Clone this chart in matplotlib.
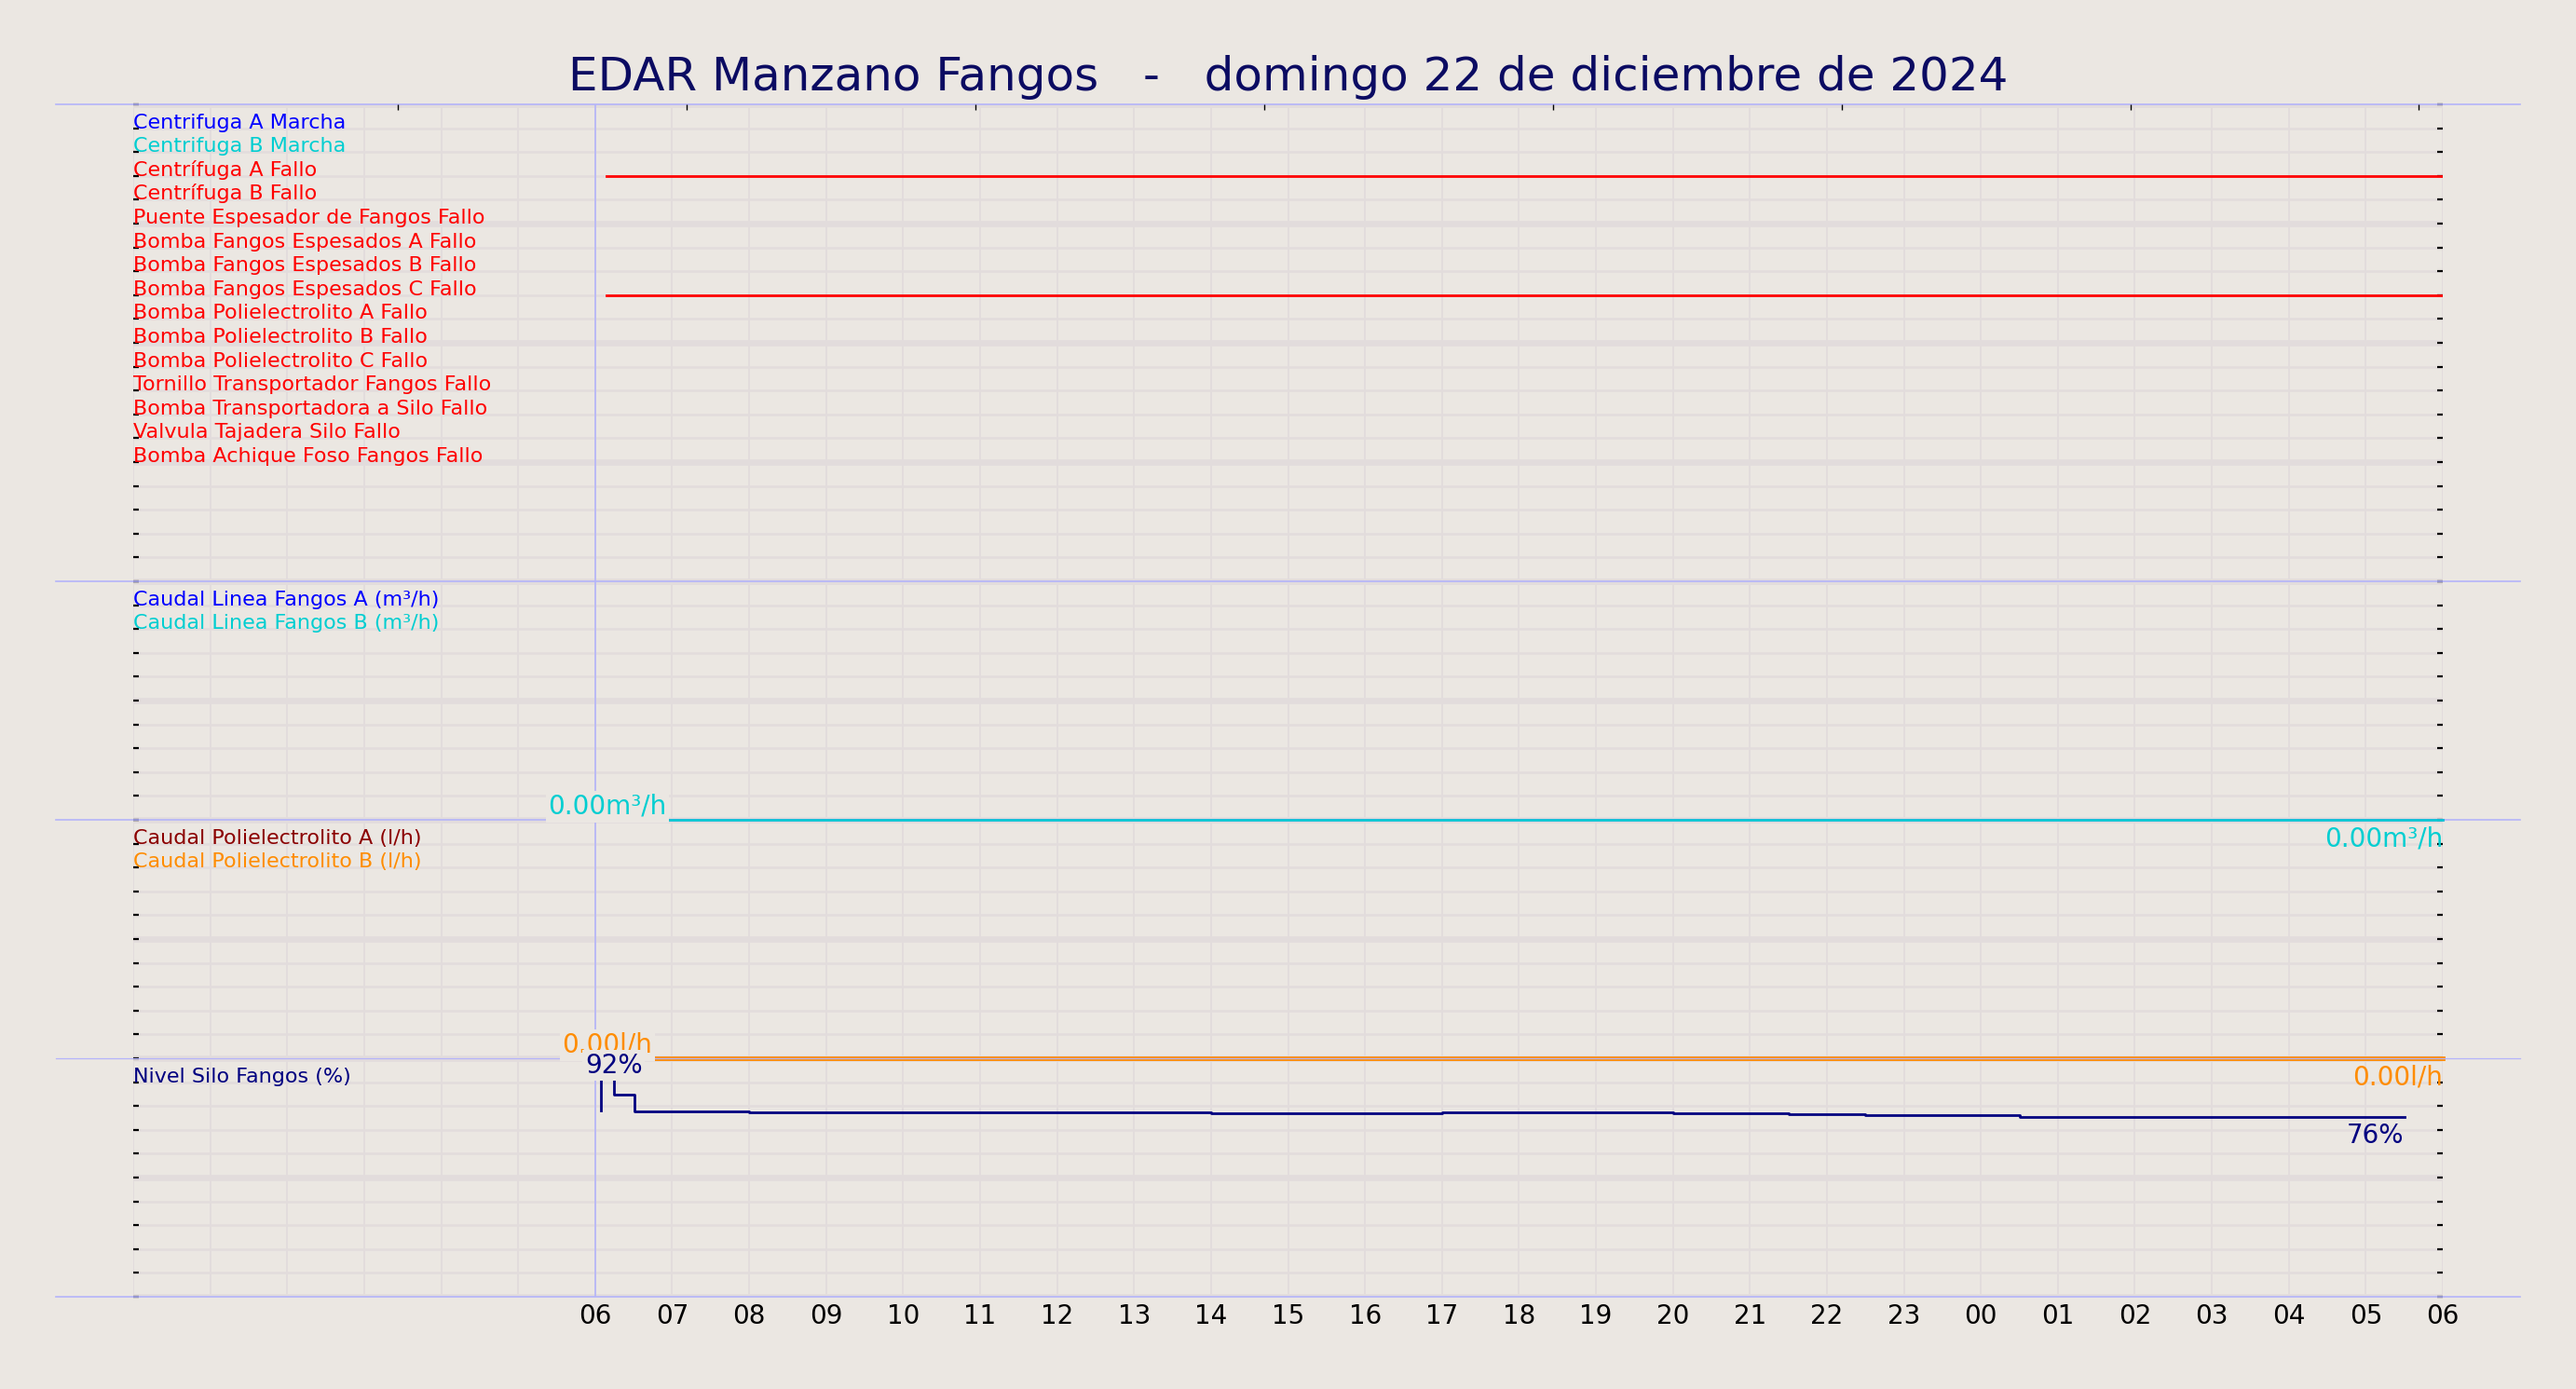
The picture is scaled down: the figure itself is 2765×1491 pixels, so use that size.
import matplotlib
matplotlib.use('Agg')
import matplotlib.pyplot as plt
from matplotlib.ticker import FixedLocator, MultipleLocator
import numpy as np

# horas contadas desde las 00:00 del domingo 22/12/2024
x_start = 0
x_end = 30
now_hour = 6

hour_ticks = list(range(0, 31))
hour_labels = ['' if h < 6 else '%02d' % (h % 24) for h in hour_ticks]
top_ticks = [3.44, 7.19, 10.94, 14.69, 18.44, 22.19, 25.94, 29.69]

title = 'EDAR Manzano Fangos   -   domingo 22 de diciembre de 2024'

signal_names = ['Centrifuga A Marcha', 'Centrifuga B Marcha', 'Centrífuga A Fallo',
                'Centrífuga B Fallo', 'Puente Espesador de Fangos Fallo',
                'Bomba Fangos Espesados A Fallo', 'Bomba Fangos Espesados B Fallo',
                'Bomba Fangos Espesados C Fallo', 'Bomba Polielectrolito A Fallo',
                'Bomba Polielectrolito B Fallo', 'Bomba Polielectrolito C Fallo',
                'Tornillo Transportador Fangos Fallo', 'Bomba Transportadora a Silo Fallo',
                'Valvula Tajadera Silo Fallo', 'Bomba Achique Foso Fangos Fallo']
signal_colors = ['blue', 'darkturquoise'] + ['red'] * 13

# senales activas: indice, inicio, fin
active_signals = [2, 7]
active_start = [6.15, 6.15]
active_end = [30.0, 30.0]

flow_time = [6.16, 30.0]
flow_a = [0.0, 0.0]
flow_b = [0.0, 0.0]
poli_a = [0.0, 0.0]
poli_b = [0.0, 0.0]

level_time = [6.08, 6.08, 6.08, 6.24, 6.24, 6.51, 8.0, 14.0, 17.0, 20.0, 21.5, 22.5, 24.5, 29.5]
level_value = [78.1, 91.6, np.nan, 91.6, 84.8, 77.7, 77.2, 76.8, 77.3, 76.8, 76.4, 76.05, 75.5, 75.5]

bg = '#ebe7e2'
grid_c = '#e2dcdc'
lav = '#b4b4fa'

fig = plt.figure(figsize=(13.825, 7.455), dpi=200, facecolor=bg)

left = 143 / 2765
width = (2622 - 143) / 2765
unit = 256 / 1491
bottom = 1 - 1392 / 1491

ax4 = fig.add_axes([left, bottom, width, unit])
ax3 = fig.add_axes([left, bottom + unit, width, unit])
ax2 = fig.add_axes([left, bottom + 2 * unit, width, unit])
ax1 = fig.add_axes([left, bottom + 3 * unit, width, 2 * unit])


def style_axis(ax, ymax, major, minor, z):
    ax.set_zorder(z)
    ax.patch.set_visible(False)
    ax.set_xlim(x_start, x_end)
    ax.set_ylim(0, ymax)
    ax.set_axisbelow(True)
    ax.xaxis.set_major_locator(FixedLocator(hour_ticks))
    ax.set_xticklabels(hour_labels)
    ax.yaxis.set_major_locator(MultipleLocator(major))
    ax.yaxis.set_minor_locator(MultipleLocator(minor))
    ax.grid(axis='x', which='major', color=grid_c, lw=0.7)
    ax.grid(axis='y', which='major', color=grid_c, lw=2.4)
    ax.grid(axis='y', which='minor', color=grid_c, lw=0.9)
    ax.tick_params(axis='x', which='both', length=0, pad=2.5, labelsize=10,
                   labelbottom=False)
    ax.tick_params(axis='y', which='both', direction='in', left=True, right=True,
                   length=2.0, width=0.8, color='black', labelleft=False)
    for s in ['top', 'left', 'right']:
        ax.spines[s].set_visible(False)
    ax.spines['bottom'].set_color(lav)
    ax.spines['bottom'].set_linewidth(0.6)
    ax.spines['bottom'].set_bounds(x_start - 1, x_end + 1)
    ax.axvline(now_hour, color=lav, lw=0.6, zorder=1)


style_axis(ax1, 20, 5, 1, 4)
style_axis(ax2, 10, 5, 1, 3)
style_axis(ax3, 10, 5, 1, 2)
style_axis(ax4, 100, 50, 10, 1)
ax4.tick_params(axis='x', labelbottom=True)
ax3.spines['bottom'].set_linewidth(0.45)

ax1.spines['top'].set_visible(True)
ax1.spines['top'].set_color(lav)
ax1.spines['top'].set_linewidth(0.6)
ax1.spines['top'].set_bounds(x_start - 1, x_end + 1)

top = ax1.twiny()
top.set_zorder(4)
top.set_xlim(x_start, x_end)
top.set_xticks(top_ticks)
top.tick_params(axis='x', direction='in', length=2.2, width=0.5, color='black',
                labeltop=False)
for s in top.spines.values():
    s.set_visible(False)

# panel de senales
for i, name in enumerate(signal_names):
    ax1.text(0, 20 - (i + 1), name, color=signal_colors[i], fontsize=8, va='baseline')
for idx, t0, t1 in zip(active_signals, active_start, active_end):
    ax1.plot([t0, t1], [20 - (idx + 1)] * 2, color='red', lw=1.0, zorder=2)

box = dict(boxstyle='square,pad=0.1', facecolor=bg, edgecolor='none')
below = dict(xytext=(0, -2.4), textcoords='offset points', fontsize=10,
             ha='right', va='top', zorder=5)

# caudal linea fangos
ax2.text(0, 9, 'Caudal Linea Fangos A (m³/h)', color='blue', fontsize=8, va='baseline')
ax2.text(0, 8, 'Caudal Linea Fangos B (m³/h)', color='darkturquoise', fontsize=8, va='baseline')
ax2.plot(flow_time, flow_a, color='blue', alpha=0.3, lw=1.1, zorder=3, clip_on=False)
ax2.plot(flow_time, flow_b, color='darkturquoise', lw=0.9, zorder=3, clip_on=False)
ax2.text(flow_time[0], flow_b[0], '%.2fm³/h' % flow_b[0], color='darkturquoise',
         fontsize=10, ha='center', va='bottom', bbox=box, zorder=5)
ax2.annotate('%.2fm³/h' % flow_b[-1], (flow_time[-1], flow_b[-1]),
             color='darkturquoise', **below)

# caudal polielectrolito
ax3.text(0, 9, 'Caudal Polielectrolito A (l/h)', color='darkred', fontsize=8, va='baseline')
ax3.text(0, 8, 'Caudal Polielectrolito B (l/h)', color='darkorange', fontsize=8, va='baseline')
ax3.plot(flow_time, poli_a, color='darkred', lw=1.2, zorder=2, clip_on=False)
ax3.plot(flow_time, poli_b, color='darkorange', lw=1.7, zorder=2, clip_on=False)
ax3.text(flow_time[0], poli_b[0], '%.2fl/h' % poli_b[0], color='darkorange',
         fontsize=10, ha='center', va='bottom', bbox=box, zorder=5)
ax3.annotate('%.2fl/h' % poli_b[-1], (flow_time[-1], poli_b[-1]),
             color='darkorange', **below)

# nivel silo
lv = np.array(level_value)
ax4.text(0, 90, 'Nivel Silo Fangos (%)', color='navy', fontsize=8, va='baseline')
ax4.plot(level_time, lv, color='navy', lw=1.0, drawstyle='steps-post')
i_max = np.where(lv == np.nanmax(lv))[0][-1]
# se dibuja desde ax3 para quedar por encima de su etiqueta
ax3.text(level_time[i_max], lv[i_max], '%.0f%%' % lv[i_max], color='navy', fontsize=10,
         ha='center', va='bottom', bbox=box, zorder=6, transform=ax4.transData)
ax4.annotate('%.0f%%' % lv[-1], (level_time[-1], lv[-1]), color='navy', **below)

fig.text(0.5, 1 - 97 / 1491, title, ha='center', va='baseline', fontsize=18,
         color='#0b0b62')

fig.savefig('out.png', dpi=200, facecolor=bg)
